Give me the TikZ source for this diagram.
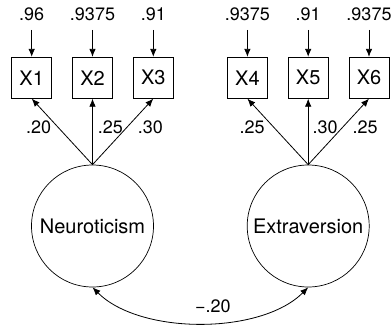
\documentclass[tikz,border=0pt]{standalone}
\usepackage{fontspec}
\setmainfont{TeX Gyre Heros}
\usetikzlibrary{positioning, arrows.meta}
\tikzset{
    x=1pt, y=1pt,
    node distance=20pt, % gap between neighbouring boxes
    latent/.style={ % factors
        circle, draw, line width=0.7pt,
        minimum size=122pt, inner sep=0pt,
        font=\fontsize{20}{24}\selectfont
    },
    indicator/.style={ % observed variables
        rectangle, draw, line width=0.8pt,
        minimum width=40pt, minimum height=41pt, inner sep=0pt,
        font=\fontsize{20}{24}\selectfont
    },
    errvar/.style={ % error variances on top
        inner sep=0pt, outer sep=9pt,
        font=\fontsize{18}{22}\selectfont
    },
    weight/.style={ % loadings and correlation
        inner sep=1pt,
        font=\fontsize{18}{22}\selectfont
    },
    every edge/.style={
        draw,
        ->,>={Latex[length=8pt,width=6.5pt]},
        line width=0.8pt
    }
}
\begin{document}
\begin{tikzpicture}
            \useasboundingbox (0,0) rectangle (392,-325);
            \node[latent] at (92.5,-226)            (neuro) {Neuroticism};
            \node[latent, right=93pt of neuro]      (extra) {Extraversion};
            \node[indicator, above=66pt of neuro]   (x2)    {X2};
            \node[indicator, left=of x2]            (x1)    {X1};
            \node[indicator, right=of x2]           (x3)    {X3};
            \node[indicator, above=66pt of extra]   (x5)    {X5};
            \node[indicator, left=of x5]            (x4)    {X4};
            \node[indicator, right=of x5]           (x6)    {X6};
            \node[errvar, above=27pt of x1]         (e1)    {.96};
            \node[errvar, above=27pt of x2]         (e2)    {.9375};
            \node[errvar, above=27pt of x3]         (e3)    {.91};
            \node[errvar, above=27pt of x4]         (e4)    {.9375};
            \node[errvar, above=27pt of x5]         (e5)    {.91};
            \node[errvar, above=27pt of x6]         (e6)    {.9375};
            \draw   (e1) edge (x1)
                    (e2) edge (x2)
                    (e3) edge (x3)
                    (e4) edge (x4)
                    (e5) edge (x5)
                    (e6) edge (x6)
            ;
            \draw   (neuro.north) edge node[weight, pos=.56, left=6pt]  {.20} (x1.south)
                    (neuro.north) edge node[weight, pos=.56, right=4pt] {.25} (x2.south)
                    (neuro.north) edge node[weight, pos=.56, right=10pt] {.30} (x3.south)
                    (extra.north) edge node[weight, pos=.56, left=8pt]  {.25} (x4.south)
                    (extra.north) edge node[weight, pos=.56, right=3pt] {.30} (x5.south)
                    (extra.north) edge node[weight, pos=.56, right=9pt] {.25} (x6.south)
            ;
            \draw   (neuro.south) edge[<->, out=-45, in=-135, looseness=0.8]
                        node[weight, pos=.55, above=9pt] {−.20} (extra.south)
            ;
        \end{tikzpicture}
\end{document}
